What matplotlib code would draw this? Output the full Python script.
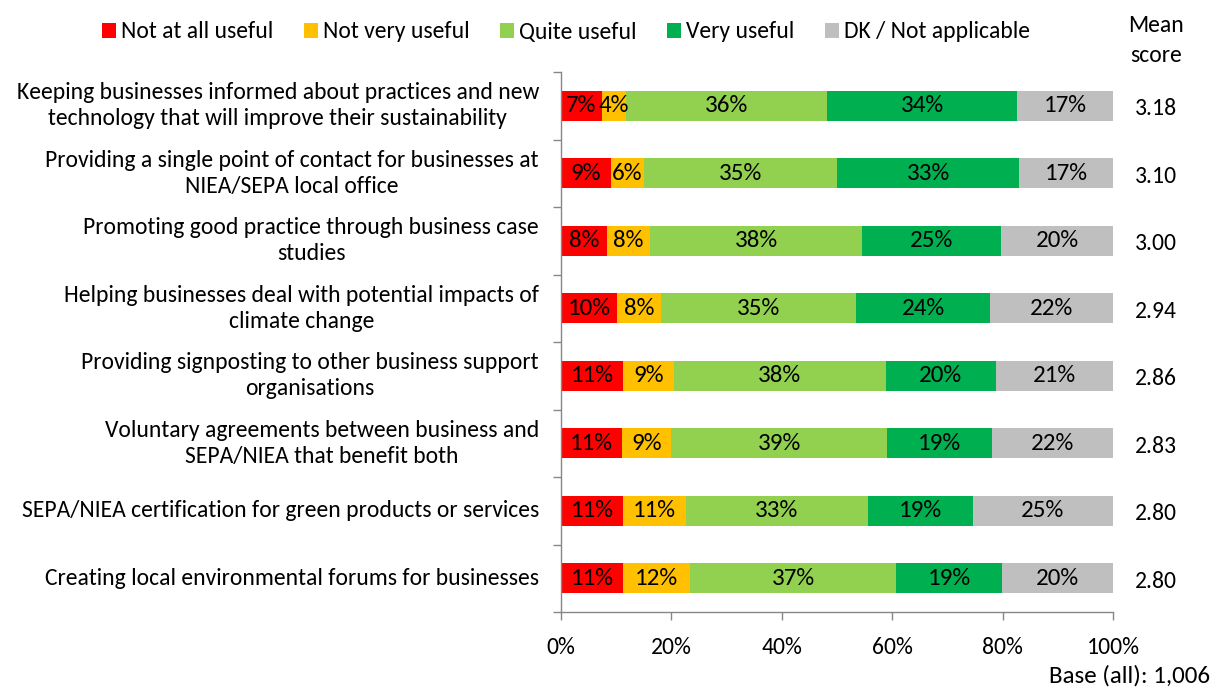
import matplotlib
matplotlib.use("Agg")
import matplotlib.pyplot as plt
from matplotlib.patches import Patch
import numpy as np

plt.rcParams['font.family'] = ['Carlito', 'Liberation Sans Narrow', 'DejaVu Sans']

categories = [
    "Keeping businesses informed about practices and new\ntechnology that will improve their sustainability",
    "Providing a single point of contact for businesses at\nNIEA/SEPA local office",
    "Promoting good practice through business case\nstudies",
    "Helping businesses deal with potential impacts of\nclimate change",
    "Providing signposting to other business support\norganisations",
    "Voluntary agreements between business and\nSEPA/NIEA that benefit both",
    "SEPA/NIEA certification for green products or services",
    "Creating local environmental forums for businesses",
]
series_names = ["Not at all useful", "Not very useful", "Quite useful", "Very useful", "DK / Not applicable"]
not_at_all = [7.4, 9.0, 8.3, 10.1, 11.2, 11.0, 11.2, 11.2]
not_very = [4.4, 6.0, 7.9, 8.0, 9.2, 9.0, 11.4, 12.2]
quite = [36.4, 35.0, 38.4, 35.4, 38.4, 39.0, 33.0, 37.3]
very = [34.4, 33.0, 25.2, 24.2, 20.0, 19.0, 19.0, 19.2]
dk = [17.4, 17.0, 20.2, 22.3, 21.2, 22.0, 25.4, 20.1]
mean_scores = ["3.18", "3.10", "3.00", "2.94", "2.86", "2.83", "2.80", "2.80"]
colors = ["#FF0000", "#FFC000", "#92D050", "#00B050", "#BFBFBF"]

series = [not_at_all, not_very, quite, very, dk]

fig = plt.figure(figsize=(12.2, 6.89), dpi=100)
ax = fig.add_axes([561/1220, 1-612/689, (1113-561)/1220, (612-72)/689])

y = np.arange(len(categories))
left = np.zeros(len(categories))
fs = 17
for vals, col in zip(series, colors):
    vals = np.array(vals)
    ax.barh(y, vals, left=left, height=0.45, color=col, edgecolor='none')
    for yi, (l, v) in enumerate(zip(left, vals)):
        ax.text(l + v/2, yi, f"{v:.0f}%", ha='center', va='center', fontsize=18, color='black')
    left += vals

ax.set_xlim(0, 100)
ax.set_ylim(len(categories) - 0.5, -0.5)
ax.set_xticks(np.arange(0, 101, 20))
ax.set_xticklabels([f"{v}%" for v in range(0, 101, 20)], fontsize=fs)
ax.set_yticks(np.arange(-0.5, len(categories), 1.0))
ax.set_yticklabels([])
ax.tick_params(axis='both', direction='out', length=6, color='#868686', width=1)
ax.tick_params(axis='x', pad=12)
for s in ['top', 'right']:
    ax.spines[s].set_visible(False)
for s in ['left', 'bottom']:
    ax.spines[s].set_color('#868686')
    ax.spines[s].set_linewidth(1)

for yi, cat in enumerate(categories):
    ax.text(-0.04, 1 - (yi + 0.5)/len(categories), cat, transform=ax.transAxes,
            ha='right', va='center', multialignment='center', fontsize=fs, linespacing=1.3)

for yi, ms in enumerate(mean_scores):
    fig.text(1156/1220, 1 - (72 + (yi + 0.5)*67.5 + 3)/689, ms, ha='center', va='center', fontsize=fs)
fig.text(1156/1220, 1 - 25/689, "Mean", ha='center', va='center', fontsize=fs)
fig.text(1156/1220, 1 - 55/689, "score", ha='center', va='center', fontsize=fs)
fig.text(1210/1220, 1 - 676/689, "Base (all): 1,006", ha='right', va='center', fontsize=18)

handles = [Patch(facecolor=c, edgecolor='none') for c in colors]
fig.legend(handles, series_names, loc='center', bbox_to_anchor=(566/1220, 1 - 32/689), ncol=5,
           frameon=False, fontsize=fs, handlelength=0.6, handleheight=0.6, handletextpad=0.2,
           columnspacing=1.3)

fig.savefig("out.png", dpi=100)
